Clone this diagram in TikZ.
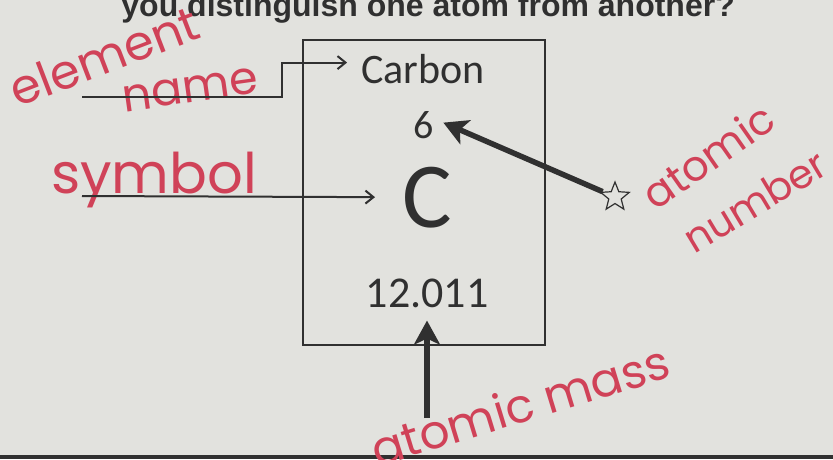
\documentclass[tikz,border=0pt]{standalone}
\usepackage{fontspec}
\usetikzlibrary{arrows.meta, positioning, shapes.geometric}
\newfontfamily\cellfont{Carlito}
\newfontfamily\headfont{Liberation Sans}
\newfontfamily\penfont{Poppins}
\definecolor{Papier}{RGB}{226,226,222}
\definecolor{Encre}{RGB}{48,48,48}
\definecolor{Stylo}{RGB}{208,66,88}
\tikzset{case/.style={rectangle, draw=Encre, line width=2.4pt,
  minimum width=242pt, minimum height=305pt}}
\tikzset{texte/.style={inner sep=0pt, text=Encre, font=\cellfont}}
\tikzset{stylo/.style={inner sep=0pt, text=Stylo, font=\penfont\fontsize{46}{46}\selectfont}}
\tikzset{fin/.style={-{Straight Barb[length=8pt, width=13pt, line width=2pt]}, draw=Encre, line width=2pt}}
\tikzset{gros/.style={-{Stealth[length=24pt, width=26pt, inset=6pt]}, draw=Encre, line width=5.5pt}}

\begin{document}
\begin{tikzpicture}[x=1pt, y=-1pt]
\useasboundingbox (0,0) rectangle (833,459);
\fill[Papier] (0,0) rectangle (833,459);
\clip (0,0) rectangle (833,459);
\fill[Encre] (0,455) rectangle (833,459);
\node[anchor=base east, inner sep=0pt, text=Encre, font=\headfont\bfseries\fontsize{32}{32}\selectfont] (titre) at (735,16) {you distinguish one atom from another?};
% la case du carbone
\node[case] (cell) at (424,192.5) {};
\node[texte, anchor=base, font=\cellfont\fontsize{42}{42}\selectfont] (carbon) at (423,83) {Carbon};
\node[texte, anchor=base, font=\cellfont\fontsize{40}{40}\selectfont] (six) at (424,138) {6};
\node[texte, anchor=base, font=\cellfont\fontsize{93}{93}\selectfont] (sym) at (427,227) {C};
\node[texte, anchor=base, font=\cellfont\fontsize{44}{44}\selectfont] (mass) at (427,307) {12.011};
% annotations au stylo
\node[stylo, rotate=21, font=\penfont\fontsize{48}{48}\selectfont] (lelement) at (104,56) {element};
\node[stylo, rotate=8] (lname) at (190,90) {name};
\node[stylo, font=\penfont\fontsize{56}{56}\selectfont] (lsymbol) at (154,180) {symbol};
\node[star, star points=5, star point ratio=2.3, draw=Encre, line width=1.2pt,
  minimum size=30pt, inner sep=0pt] (etoile) at (615,197) {};
\node[stylo, rotate=35, font=\penfont\fontsize{42}{42}\selectfont] (latomic) at (708,156) {atomic};
\node[stylo, rotate=31, font=\penfont\fontsize{40}{40}\selectfont] (lnumber) at (755,201) {number};
\node[stylo, rotate=17, font=\penfont\fontsize{47}{47}\selectfont] (lmass) at (520,405) {atomic mass};
\coordinate (nomfil) at (82,97);
\coordinate (symfil) at (82,196);
\coordinate (massepied) at (427,418);
% fleches
\draw[fin] (nomfil) -- ++(200,0) |- ([xshift=-14pt, yshift=6pt]carbon.west);
\draw[fin] (symfil) -- ([xshift=-27pt]sym.west);
\draw[gros] (etoile) -- ([xshift=9pt, yshift=2pt]six.east);
\draw[gros] (massepied) -- ([yshift=-13pt]mass.south);
\end{tikzpicture}
\end{document}
